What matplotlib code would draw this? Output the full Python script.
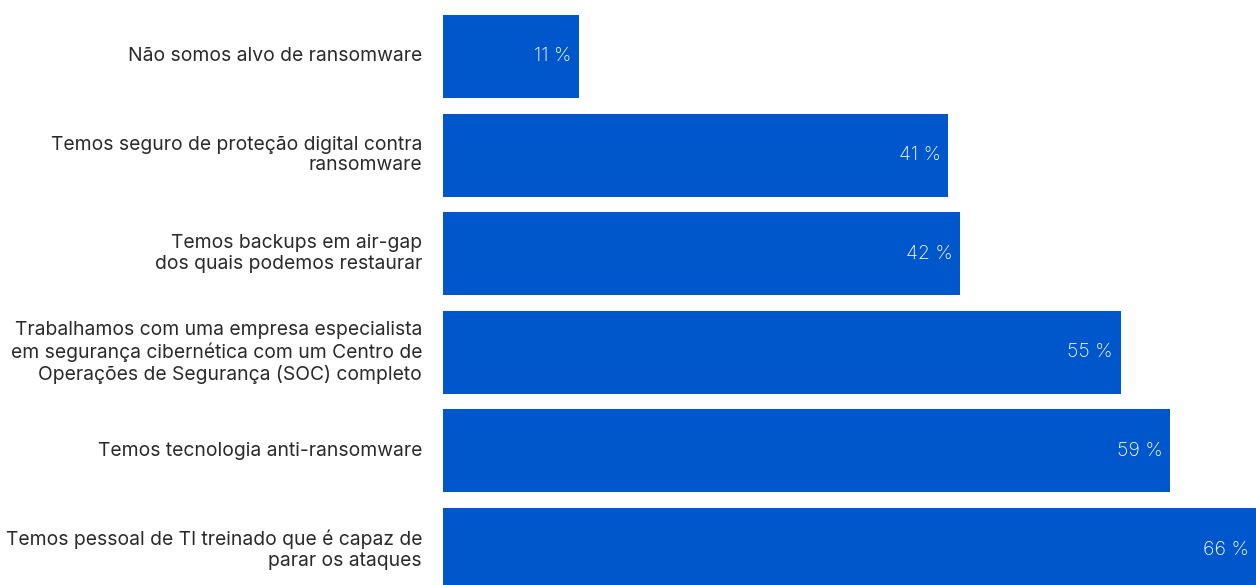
import matplotlib.pyplot as plt

labels = [
    "Não somos alvo de ransomware",
    "Temos seguro de proteção digital contra\nransomware",
    "Temos backups em air-gap\ndos quais podemos restaurar",
    "Trabalhamos com uma empresa especialista\nem segurança cibernética com um Centro de\nOperações de Segurança (SOC) completo",
    "Temos tecnologia anti-ransomware",
    "Temos pessoal de TI treinado que é capaz de\nparar os ataques",
]
values = [11, 41, 42, 55, 59, 66]

bar_color = "#0057CC"

fig = plt.figure(figsize=(12.56, 5.85), dpi=100)
ax = fig.add_axes([443 / 1256, 0, 813 / 1256, 1])

pos = list(range(len(values)))
ax.barh(pos, values, height=0.842, color=bar_color)
ax.set_xlim(0, 66)
ax.set_ylim(5.36, -0.573)

for y, v, lab in zip(pos, values, labels):
    ax.text(v - 0.6, y, f"{v} %", ha="right", va="center", color="white",
            fontsize=14, family="Inter", fontweight="light")
    ax.text(-1.7, y, lab, ha="right", va="center", color="#2a2a2a",
            fontsize=13.9, family="Inter", fontweight="normal", linespacing=1.2)

ax.axis("off")
fig.savefig("out.png", dpi=100)
